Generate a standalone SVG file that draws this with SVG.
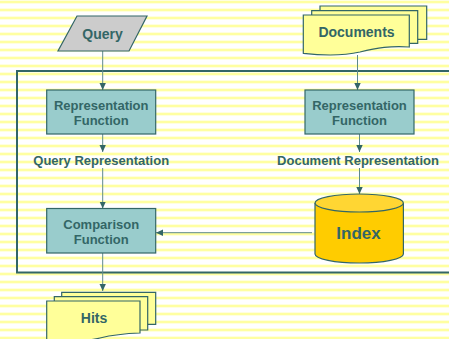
<svg xmlns="http://www.w3.org/2000/svg" width="449" height="339" viewBox="0 0 449 339">
  <defs>
    <pattern id="stripes" x="0" y="0" width="8" height="8" patternUnits="userSpaceOnUse">
      <rect x="0" y="0" width="8" height="8" fill="#FFFFFF"/>
      <rect x="0" y="0.5" width="8" height="3" fill="#FFFFC0"/>
      <rect x="0" y="1.2" width="8" height="1.6" fill="#FFFF99"/>
    </pattern>
    <marker id="arrow" viewBox="0 0 8 8" refX="7" refY="4" markerWidth="8" markerHeight="8" markerUnits="userSpaceOnUse" orient="auto">
      <path d="M0,0.8 L7,4 L0,7.2 Z" fill="#336666"/>
    </marker>
  </defs>
  <style>
    .lbl { font-family: "Liberation Sans", Arial, sans-serif; font-weight: bold; fill: #336666; text-anchor: middle; }
    .box { fill: #99CCCC; stroke: #336666; stroke-width: 1.2; }
    .page { fill: #FFFF99; stroke: #336666; stroke-width: 1.2; }
    .conn { stroke: #5F8A8A; stroke-width: 1; fill: none; marker-end: url(#arrow); }
    .line { stroke: #5F8A8A; stroke-width: 1; fill: none; }
  </style>

  <!-- striped backdrop -->
  <rect x="0" y="0" width="449" height="339" fill="url(#stripes)"/>

  <!-- system boundary -->
  <rect id="boundary" x="17" y="71" width="440" height="201.5" fill="none" stroke="#336666" stroke-width="2"/>

  <g id="connectors">
    <line class="conn" x1="102.7" y1="51" x2="102.7" y2="90"/>
    <line class="conn" x1="102.7" y1="134" x2="102.7" y2="152"/>
    <line class="conn" x1="102.7" y1="168" x2="102.7" y2="208.5"/>
    <line class="conn" x1="102.7" y1="253" x2="102.7" y2="291"/>
    <line class="conn" x1="357.5" y1="55" x2="357.5" y2="90"/>
    <line class="conn" x1="359.5" y1="134" x2="359.5" y2="152"/>
    <line class="conn" x1="359.5" y1="168" x2="359.5" y2="194"/>
    <line class="conn" x1="312" y1="232.7" x2="156" y2="232.7"/>
  </g>

  <g id="query">
    <polygon points="77,16 147,16 129,51 58,51" fill="#CCCCCC" stroke="#336666" stroke-width="1.2"/>
    <text class="lbl" x="102.5" y="39" font-size="14">Query</text>
  </g>

  <g id="documents">
    <path class="page" d="M320,6 H426.7 V39.3 H320 Z"/>
    <path class="page" d="M311.7,10.7 H417.7 V43.3 H311.7 Z"/>
    <path class="page" d="M303.3,15 H409.3 V47 C390,46 378,47.5 360,52 C340,56.5 322,55.5 303.3,53.3 Z"/>
    <text class="lbl" x="356.5" y="37.3" font-size="14">Documents</text>
  </g>

  <g id="query-rep-fn">
    <rect class="box" x="46.7" y="90" width="109" height="44"/>
    <text class="lbl" x="101.2" y="110.3" font-size="13">Representation</text>
    <text class="lbl" x="101.2" y="125.3" font-size="13">Function</text>
  </g>

  <g id="doc-rep-fn">
    <rect class="box" x="305" y="90" width="109" height="44"/>
    <text class="lbl" x="359.5" y="110.3" font-size="13">Representation</text>
    <text class="lbl" x="359.5" y="125.3" font-size="13">Function</text>
  </g>

  <g id="query-representation">
    <text class="lbl" x="101.2" y="165" font-size="13">Query Representation</text>
  </g>

  <g id="document-representation">
    <text class="lbl" x="358" y="165" font-size="13">Document Representation</text>
  </g>

  <g id="comparison-fn">
    <rect class="box" x="46.7" y="208.5" width="109" height="44.5"/>
    <text class="lbl" x="101.2" y="228.5" font-size="13">Comparison</text>
    <text class="lbl" x="101.2" y="244" font-size="13">Function</text>
  </g>

  <g id="index">
    <path d="M315,203 V254 A44.2,9 0 0 0 403.4,254 V203" fill="#FFCC00" stroke="#336666" stroke-width="1.2"/>
    <ellipse cx="359.2" cy="203" rx="44.2" ry="9" fill="#FFD633" stroke="#336666" stroke-width="1.2"/>
    <text class="lbl" x="358.5" y="239.3" font-size="17">Index</text>
  </g>

  <g id="hits">
    <path class="page" d="M61.7,292.3 H155.7 V324.3 H61.7 Z"/>
    <path class="page" d="M54.3,296.7 H147.7 V330 H54.3 Z"/>
    <path class="page" d="M46.7,301 H140 V333 C125,333.5 112,335 100,338 C90,340.5 80,341 70,341 H46.7 Z"/>
    <text class="lbl" x="94" y="323" font-size="14">Hits</text>
  </g>
</svg>
